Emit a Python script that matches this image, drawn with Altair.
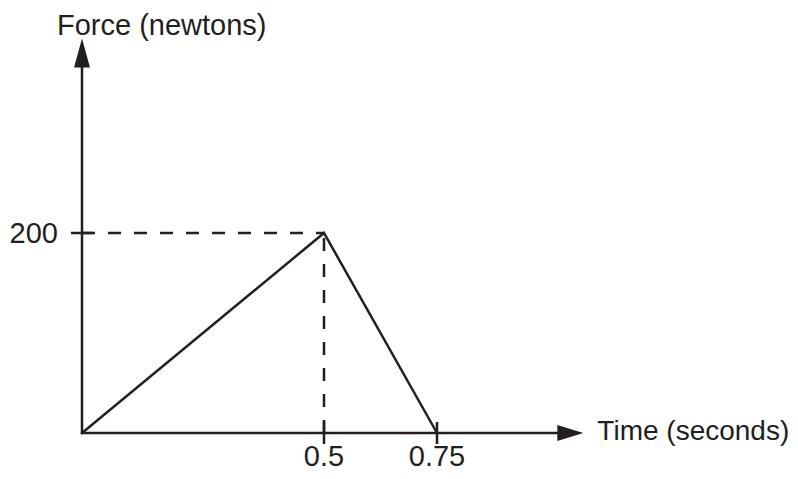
import altair as alt
import pandas as pd

# ---- data ----
time_s = [0, 0.5, 0.75]
force_n = [0, 200, 0]
x_ticks = [0.5, 0.75]
x_tick_labels = ["0.5", "0.75"]
y_ticks = [200]
y_tick_labels = ["200"]
peak_time = [0.5]
peak_force = [200]
x_axis_end = [1.045]
y_axis_end = [380]
x_title = ["Time (seconds)"]
y_title = ["Force (newtons)"]

INK = "#231f20"
FONT = "Liberation Sans"
FS = 29
LW = 2.5

xs = alt.Scale(domain=[0, 0.5, 0.75], range=[74, 316, 429], zero=False, nice=False)
ys = alt.Scale(domain=[0, 200], range=[425, 225], zero=False, nice=False)


def X(field):
    return alt.X(field, type="quantitative", scale=xs, axis=None)


def Y(field):
    return alt.Y(field, type="quantitative", scale=ys, axis=None)


curve_df = pd.DataFrame({"t": time_s, "f": force_n})
curve = alt.Chart(curve_df).mark_line(
    color=INK, strokeWidth=LW, strokeJoin="miter"
).encode(x=X("t"), y=Y("f"), order="t:Q")

xaxis_df = pd.DataFrame({"x0": [0], "x1": x_axis_end, "y": [0]})
xaxis = alt.Chart(xaxis_df).mark_rule(color=INK, strokeWidth=LW, strokeCap="square").encode(
    x=X("x0"), x2="x1", y=Y("y")
)
yaxis_df = pd.DataFrame({"x": [0], "y0": [0], "y1": y_axis_end})
yaxis = alt.Chart(yaxis_df).mark_rule(color=INK, strokeWidth=LW, strokeCap="square").encode(
    x=X("x"), y=Y("y0"), y2="y1"
)

right_arrow = alt.Chart(pd.DataFrame({"x": x_axis_end, "y": [0]})).mark_point(
    shape="M1,0L-1,-0.62L-1,0.62Z", size=676, filled=True, fill=INK, strokeWidth=0, opacity=1
).encode(x=X("x"), y=Y("y"))
up_arrow = alt.Chart(pd.DataFrame({"x": [0], "y": y_axis_end})).mark_point(
    shape="M0,-1L0.55,1L-0.55,1Z", size=841, filled=True, fill=INK, strokeWidth=0, opacity=1
).encode(x=X("x"), y=Y("y"))

hdash_df = pd.DataFrame({"x0": [0], "x1": peak_time, "y": peak_force})
hdash = alt.Chart(hdash_df).mark_rule(color=INK, strokeWidth=LW, strokeDash=[13, 13]).encode(
    x=X("x0"), x2="x1", y=Y("y")
)
vdash_df = pd.DataFrame({"x": peak_time, "y0": [0], "y1": peak_force})
vdash = alt.Chart(vdash_df).mark_rule(color=INK, strokeWidth=LW, strokeDash=[13, 13]).encode(
    x=X("x"), y=Y("y0"), y2="y1"
)

xtick_df = pd.DataFrame({"x": x_ticks, "y": [0] * len(x_ticks), "lab": x_tick_labels})
xtick = alt.Chart(xtick_df).mark_tick(
    orient="vertical", size=22, thickness=LW, color=INK, opacity=1
).encode(x=X("x"), y=Y("y"))
xlab = alt.Chart(xtick_df).mark_text(
    font=FONT, fontSize=FS, color=INK, align="center", baseline="alphabetic", dy=33
).encode(x=X("x"), y=Y("y"), text="lab:N")

ytick_df = pd.DataFrame({"x": [0] * len(y_ticks), "y": y_ticks, "lab": y_tick_labels})
ytick = alt.Chart(ytick_df).mark_tick(
    orient="horizontal", size=22, thickness=LW, color=INK, opacity=1
).encode(x=X("x"), y=Y("y"))
ylab = alt.Chart(ytick_df).mark_text(
    font=FONT, fontSize=FS, color=INK, align="right", baseline="alphabetic", dx=-24, dy=10
).encode(x=X("x"), y=Y("y"), text="lab:N")

xtitle = alt.Chart(pd.DataFrame({"x": x_axis_end, "y": [0], "lab": x_title})).mark_text(
    font=FONT, fontSize=28, color=INK, align="left", baseline="alphabetic", dx=27, dy=7
).encode(x=X("x"), y=Y("y"), text="lab:N")
ytitle = alt.Chart(pd.DataFrame({"x": [0], "y": y_axis_end, "lab": y_title})).mark_text(
    font=FONT, fontSize=FS, color=INK, align="left", baseline="alphabetic", dx=-25, dy=-18
).encode(x=X("x"), y=Y("y"), text="lab:N")

chart = alt.layer(
    hdash, vdash, curve, xaxis, yaxis, right_arrow, up_arrow, xtick, ytick, xlab, ylab, xtitle, ytitle
).properties(
    width=782, height=463, autosize=alt.AutoSizeParams(type="none"), padding=0,
    background="white"
).configure_view(stroke="transparent", strokeWidth=0)

chart.save("out.html", embed_options={"renderer": "svg", "actions": False})
